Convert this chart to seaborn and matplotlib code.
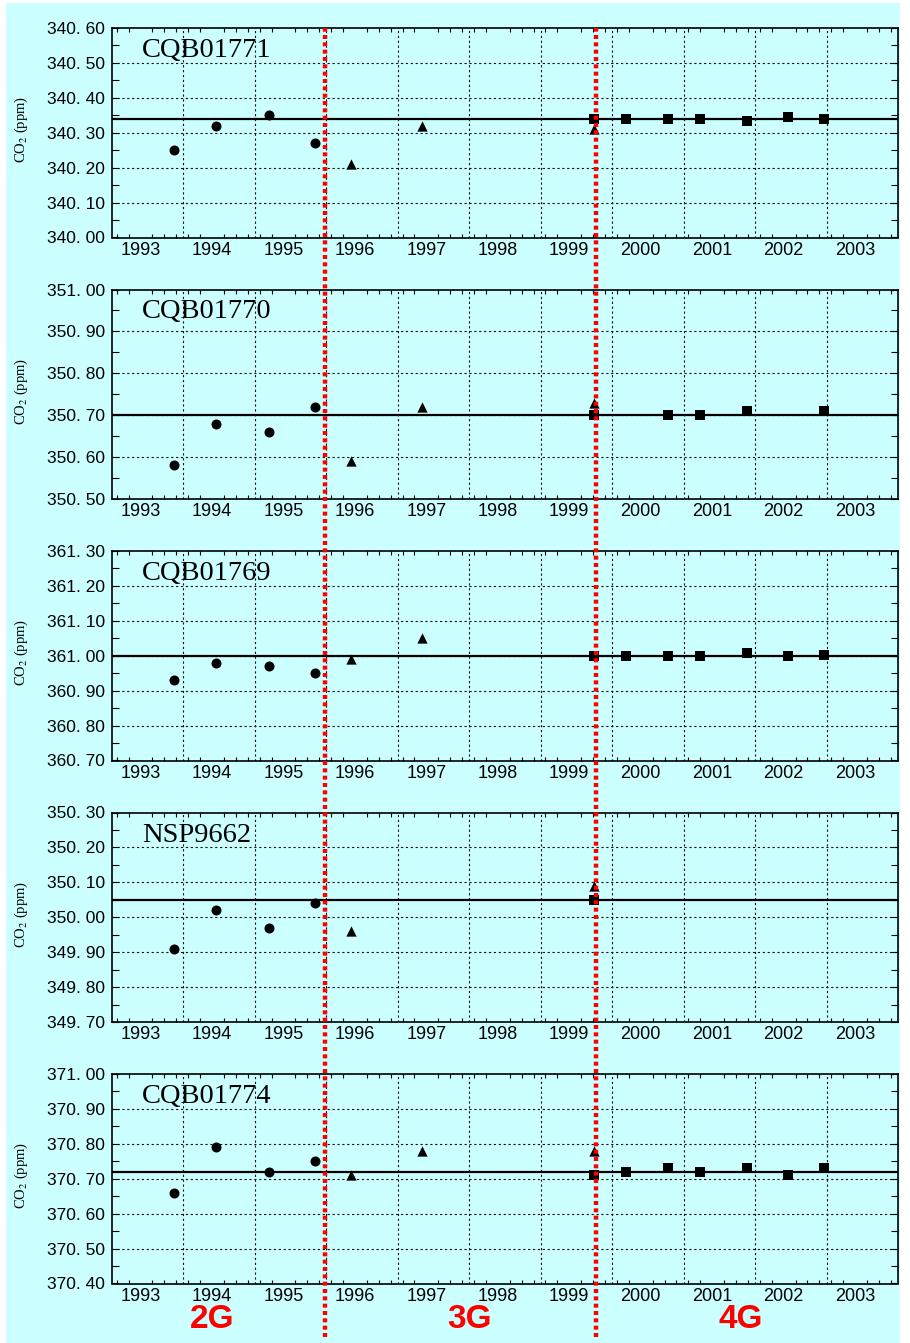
import numpy as np
import matplotlib
matplotlib.use("Agg")
import matplotlib.pyplot as plt
import matplotlib.transforms as mtransforms
from matplotlib.patches import Rectangle
from matplotlib.lines import Line2D
from matplotlib.ticker import MultipleLocator, FixedLocator, FuncFormatter
import seaborn as sns

# ---------------- data ----------------
cylinders = ["CQB01771", "CQB01770", "CQB01769", "NSP9662", "CQB01774"]
y_low = [340.00, 350.50, 360.70, 349.70, 370.40]
y_high = [340.60, 351.00, 361.30, 350.30, 371.00]
mean_values = [340.34, 350.70, 361.00, 350.05, 370.72]

# measurement dates (decimal years)
x_2g = [1993.47, 1994.05, 1994.80, 1995.44]
x_3g = [1995.95, 1996.94, 1999.34]
x_4g = [1999.34, 1999.80, 2000.38, 2000.83, 2001.48, 2002.06, 2002.57]

nan = np.nan
v_2g = [
    [340.25, 340.32, 340.35, 340.27],
    [350.58, 350.68, 350.66, 350.72],
    [360.93, 360.98, 360.97, 360.95],
    [349.91, 350.02, 349.97, 350.04],
    [370.66, 370.79, 370.72, 370.75],
]
v_3g = [
    [340.21, 340.32, 340.31],
    [350.59, 350.72, 350.73],
    [360.99, 361.05, nan],
    [349.96, nan, 350.09],
    [370.71, 370.78, 370.78],
]
v_4g = [
    [340.34, 340.34, 340.34, 340.34, 340.335, 340.345, 340.34],
    [350.70, nan, 350.70, 350.70, 350.71, nan, 350.71],
    [361.00, 361.00, 361.00, 361.00, 361.007, 361.00, 361.003],
    [350.05, nan, nan, nan, nan, nan, nan],
    [370.71, 370.72, 370.73, 370.72, 370.73, 370.71, 370.73],
]

years = list(range(1993, 2004))
x_start, x_end = 1992.6, 2003.6
boundaries = [1995.58, 1999.38]
gen_labels = ["2G", "3G", "4G"]
gen_label_x = [1994.0, 1997.6, 2001.4]

# ---------------- style ----------------
W, H = 910, 1343
BG = "#CCFFFF"
fig = plt.figure(figsize=(W / 100, H / 100), dpi=100, facecolor="white")
fig.add_artist(Rectangle((6 / W, 0), (900 - 6) / W, (H - 3) / H,
                         transform=fig.transFigure, facecolor=BG,
                         edgecolor="none", zorder=-10))

tick_font = ["Liberation Sans Narrow", "Liberation Sans", "DejaVu Sans"]
plt.rcParams["mathtext.fontset"] = "stix"

left_px, right_px = 112, 898
top0, pitch, ph = 28, 261.5, 209.5

axes = []
for i, name in enumerate(cylinders):
    top = top0 + pitch * i
    ax = fig.add_axes([left_px / W, 1 - (top + ph) / H,
                       (right_px - left_px) / W, ph / H])
    ax.set_facecolor(BG)
    ax.set_xlim(x_start, x_end)
    ax.set_ylim(y_low[i], y_high[i])

    # grid
    for yr in years[:-1]:
        ax.axvline(yr + 0.6, color="#111111", lw=0.8, ls=(0, (2, 2.4)), zorder=1)
    yt = np.arange(y_low[i], y_high[i] + 1e-6, 0.1)
    for yv in yt[1:-1]:
        ax.axhline(yv, color="#111111", lw=0.8, ls=(0, (2, 2.4)), zorder=1)

    # mean line
    ax.axhline(mean_values[i], color="black", lw=1.6, zorder=2)

    # points
    sns.scatterplot(x=x_2g, y=v_2g[i], marker="o", s=52, color="black",
                    linewidth=0, ax=ax, legend=False, zorder=3)
    sns.scatterplot(x=x_3g, y=v_3g[i], marker="^", s=55, color="black",
                    linewidth=0, ax=ax, legend=False, zorder=3)
    sns.scatterplot(x=x_4g, y=v_4g[i], marker="s", s=52, color="black",
                    linewidth=0, ax=ax, legend=False, zorder=4)

    # ticks
    ax.xaxis.set_major_locator(FixedLocator(years))
    ax.set_xticklabels([str(y) for y in years], family=tick_font, fontsize=13)
    ax.xaxis.set_minor_locator(MultipleLocator(1 / 6))
    ax.yaxis.set_major_locator(MultipleLocator(0.1))
    ax.yaxis.set_minor_locator(MultipleLocator(0.05))
    ax.yaxis.set_major_formatter(FuncFormatter(lambda v, p: f"{v:.2f}".replace(".", ". ")))
    ax.tick_params(axis="x", which="major", length=0, pad=3, labelsize=13)
    ax.tick_params(axis="x", which="minor", direction="in", length=2.8,
                   width=0.8, top=True, bottom=True)
    ax.tick_params(axis="y", which="both", direction="in", left=True,
                   right=True, width=0.8, labelsize=12.5, pad=5)
    ax.tick_params(axis="y", which="major", length=5)
    ax.tick_params(axis="y", which="minor", length=5)
    for lab in ax.get_yticklabels():
        lab.set_family(tick_font)
        lab.set_fontsize(12.5)
    for sp in ax.spines.values():
        sp.set_linewidth(1.2)
        sp.set_color("black")
        sp.set_zorder(5)
    ax.set_xlabel("")
    ax.set_ylabel("")

    ax.text(0.038, 1 - 29 / ph, name, transform=ax.transAxes,
            family=["Liberation Serif", "DejaVu Serif"], fontsize=20.5,
            ha="left", va="baseline", zorder=6)

    fig.text(21 / W, 1 - (top + ph / 2 - 3) / H, "CO$_2$ (ppm)",
             rotation=90, ha="center", va="center", fontsize=10.5,
             family=["Liberation Serif", "DejaVu Serif"])
    axes.append(ax)

# generation boundaries spanning all panels
trans = mtransforms.blended_transform_factory(axes[0].transData, fig.transFigure)
for b in boundaries:
    fig.add_artist(Line2D([b, b], [6 / H, 1 - 28 / H], transform=trans,
                          color="#FF0000", lw=3.2, ls=(0, (0.9, 0.75)),
                          zorder=20))
for lab, gx in zip(gen_labels, gen_label_x):
    fig.text(gx, 1 - 1320 / H, lab, transform=trans, ha="center", va="center",
             color="#FF0000", fontsize=24, fontweight="bold",
             family=["Liberation Sans Narrow", "Liberation Sans", "DejaVu Sans"])

fig.savefig("out.png", dpi=100, facecolor="white")
